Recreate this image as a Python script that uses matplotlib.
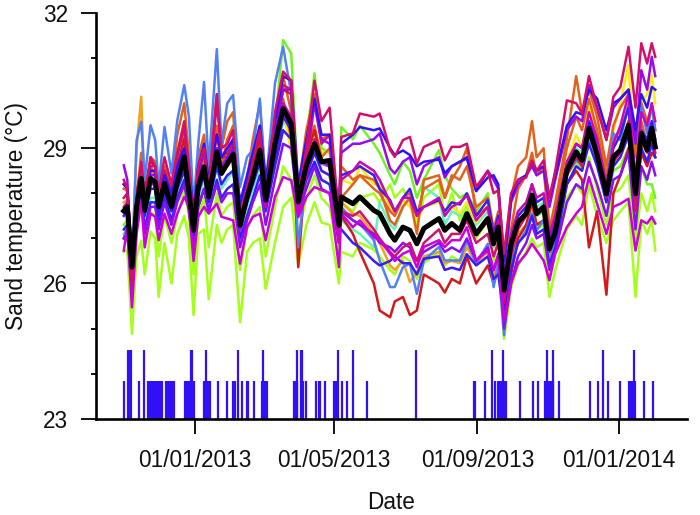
import matplotlib
matplotlib.use("Agg")
import matplotlib.pyplot as plt

plt.rcParams["font.family"] = ["Liberation Sans", "DejaVu Sans"]

# days since 01/01/2013
days = [-61, -58, -54, -50, -46, -43, -38, -34, -31, -26,
        -20, -15, -9, -5, -1, 3, 8, 12, 19, 23,
        28, 33, 39, 45, 50, 56, 61, 69, 76, 83,
        89, 96, 103, 109, 116, 124, 126, 136, 142, 154,
        159, 168, 172, 179, 185, 191, 197, 210, 215, 221,
        228, 234, 242, 252, 257, 261, 266, 272, 278, 285,
        290, 294, 300, 305, 310, 320, 328, 333, 339, 346,
        354, 360, 366, 373, 379, 384, 389, 393, 396]

mean_temp = [27.61, 27.70, 26.36, 27.70, 28.33, 27.62, 28.33, 28.25, 27.70, 28.22,
             27.70, 28.25, 28.81, 28.03, 27.18, 28.14, 28.59, 27.92, 28.92, 28.44,
             28.66, 28.87, 27.29, 27.92, 28.36, 28.96, 27.85, 29.10, 29.88, 29.55,
             27.81, 28.62, 29.10, 28.70, 28.73, 27.29, 27.92, 27.77, 27.92, 27.62,
             27.55, 27.10, 26.96, 27.25, 27.18, 26.88, 27.22, 27.44, 27.18, 27.33,
             27.18, 27.55, 27.10, 27.44, 26.88, 27.25, 25.85, 26.88, 27.36, 27.55,
             27.96, 27.55, 27.70, 26.77, 27.14, 28.51, 28.92, 28.73, 29.44, 28.85,
             27.99, 28.81, 28.96, 29.51, 27.99, 29.33, 28.96, 29.44, 29.03]

lime = [26.70, 26.75, 24.88, 26.60, 26.95, 26.20, 27.15, 27.00, 25.70, 26.90,
        26.00, 27.10, 27.50, 27.00, 25.30, 27.10, 27.20, 25.65, 27.30, 26.90,
        27.20, 27.30, 25.14, 26.70, 26.90, 27.00, 25.88, 26.90, 27.70, 27.90,
        26.40, 27.30, 27.80, 27.35, 27.30, 26.00, 26.70, 26.60, 26.90, 26.75,
        26.60, 26.30, 26.20, 26.60, 26.50, 26.10, 26.45, 26.70, 26.40, 26.60,
        26.50, 26.90, 26.50, 26.80, 26.10, 26.50, 24.77, 25.90, 26.40, 26.70,
        27.00, 26.80, 26.90, 25.70, 26.30, 27.20, 27.50, 27.30, 28.20, 27.50,
        26.90, 27.40, 27.60, 27.80, 25.70, 27.40, 27.10, 27.40, 26.73]

lime_mid = [27.00, 27.10, 25.70, 27.20, 27.70, 27.00, 27.60, 27.50, 26.60, 27.50,
            26.90, 27.50, 28.10, 27.50, 26.20, 27.50, 27.90, 26.80, 28.00, 27.50,
            27.70, 27.80, 26.30, 27.20, 27.50, 27.70, 26.60, 27.70, 28.60, 28.30,
            27.10, 27.90, 28.40, 27.90, 27.70, 26.60, 27.80, 27.60, 27.90, 28.00,
            27.80, 28.20, 27.90, 28.10, 27.80, 27.30, 27.90, 28.20, 27.50, 28.00,
            27.40, 27.70, 27.00, 27.40, 26.50, 27.00, 25.20, 26.50, 27.00, 27.30,
            27.50, 27.20, 27.30, 26.20, 26.80, 27.90, 28.20, 28.00, 28.80, 28.10,
            27.30, 28.00, 28.10, 28.40, 26.90, 28.00, 27.60, 28.00, 27.60]

green = [27.30, 27.40, 26.00, 27.60, 28.70, 27.80, 28.30, 28.30, 27.80, 28.20,
         27.80, 28.30, 29.00, 28.20, 27.00, 28.20, 28.70, 27.70, 28.90, 28.40,
         28.60, 28.80, 27.00, 27.80, 28.30, 29.30, 27.90, 29.50, 31.40, 31.10,
         28.00, 29.20, 30.66, 29.00, 28.90, 26.90, 29.47, 29.20, 29.50, 29.10,
         28.90, 28.40, 28.20, 28.70, 28.50, 27.90, 28.30, 28.96, 28.40, 28.10,
         27.90, 28.00, 27.60, 28.00, 27.20, 27.40, 25.40, 26.90, 27.30, 27.60,
         27.90, 27.50, 27.60, 26.50, 27.00, 28.40, 28.70, 28.50, 29.30, 28.70,
         27.80, 28.50, 28.60, 29.00, 27.30, 28.60, 28.20, 28.20, 27.90]

aqua = [27.10, 27.20, 26.10, 27.40, 28.00, 27.30, 27.90, 27.90, 27.40, 27.90,
        27.40, 28.00, 28.50, 27.80, 27.10, 27.90, 28.30, 27.70, 28.60, 28.10,
        28.30, 28.50, 27.10, 27.70, 28.10, 28.60, 27.70, 28.80, 29.60, 29.30,
        27.60, 28.20, 28.70, 28.30, 28.20, 27.10, 27.40, 27.20, 27.10, 26.80,
        27.80, 27.30, 27.20, 27.70, 27.90, 27.40, 28.14, 27.90, 27.30, 27.60,
        27.50, 27.80, 27.30, 27.60, 26.80, 27.30, 25.90, 27.00, 27.50, 27.70,
        28.00, 27.70, 27.80, 26.90, 27.30, 28.50, 29.00, 28.90, 29.50, 29.00,
        28.00, 28.80, 29.00, 29.60, 28.30, 29.40, 29.00, 29.40, 29.00]

yellow = [27.90, 27.95, 26.50, 28.00, 28.50, 27.85, 28.50, 28.45, 27.95, 28.40,
          27.95, 28.40, 29.00, 28.25, 27.40, 28.30, 28.75, 28.10, 29.10, 28.65,
          28.85, 29.05, 27.40, 28.05, 28.55, 29.15, 28.00, 29.20, 29.85, 28.90,
          28.00, 28.80, 29.30, 28.90, 28.95, 27.40, 28.30, 28.20, 28.60, 28.20,
          28.20, 27.70, 27.50, 27.85, 27.70, 27.40, 27.70, 27.80, 27.60, 27.70,
          27.55, 27.80, 27.35, 27.70, 27.00, 27.40, 25.90, 27.00, 27.50, 27.80,
          28.10, 27.80, 27.90, 26.90, 27.30, 28.70, 29.30, 29.00, 29.90, 29.30,
          28.40, 29.40, 30.00, 30.84, 28.50, 30.00, 30.20, 30.62, 30.00]

orange = [27.80, 27.85, 26.45, 29.00, 30.14, 27.90, 28.45, 28.40, 27.75, 28.40,
          27.85, 28.30, 28.90, 28.15, 27.20, 28.20, 28.60, 27.95, 28.95, 28.50,
          28.70, 28.90, 27.25, 27.95, 28.40, 29.10, 27.95, 29.05, 29.85, 29.60,
          27.90, 28.60, 29.10, 28.50, 28.40, 27.10, 27.80, 27.55, 27.50, 27.10,
          26.90, 26.40, 26.30, 26.50, 26.03, 26.25, 26.60, 26.70, 26.45, 26.50,
          26.45, 26.80, 26.45, 26.70, 26.10, 26.45, 25.60, 26.60, 27.10, 27.30,
          27.70, 27.30, 27.40, 26.60, 27.00, 28.40, 28.80, 28.60, 29.40, 28.80,
          28.00, 28.70, 28.90, 29.40, 28.00, 29.10, 28.90, 29.30, 29.00]

orange_mid = [27.60, 27.60, 26.30, 27.90, 28.90, 27.70, 28.60, 28.40, 27.60, 28.60,
              27.90, 28.50, 29.30, 28.30, 27.10, 28.40, 28.80, 28.00, 29.50, 28.60,
              29.20, 29.50, 27.40, 28.10, 28.60, 29.30, 27.90, 29.20, 30.10, 29.20,
              27.90, 28.90, 29.50, 28.80, 29.00, 27.30, 27.90, 28.20, 28.40, 28.30,
              28.10, 27.40, 27.30, 27.70, 27.90, 27.10, 28.30, 28.40, 27.90, 28.30,
              28.60, 29.00, 27.50, 27.70, 26.90, 27.30, 25.70, 27.20, 28.10, 28.40,
              28.90, 28.40, 28.60, 27.00, 27.70, 29.00, 29.70, 29.40, 30.10, 29.40,
              28.40, 29.20, 29.40, 29.90, 28.40, 29.60, 29.10, 29.40, 29.00]

dark_orange = [28.10, 28.05, 26.60, 28.00, 28.60, 28.00, 28.80, 28.70, 28.00, 28.60,
               28.10, 29.30, 30.00, 28.80, 27.60, 28.80, 29.30, 28.30, 30.20, 29.00,
               29.60, 29.80, 27.60, 28.30, 29.20, 30.00, 28.20, 29.50, 30.60, 29.80,
               28.10, 29.40, 30.20, 29.20, 29.30, 27.60, 28.60, 28.30, 28.40, 28.10,
               28.00, 27.60, 27.50, 27.90, 28.00, 27.50, 28.10, 28.30, 27.90, 28.40,
               28.30, 28.60, 27.70, 27.90, 27.20, 27.60, 26.10, 27.90, 28.60, 28.80,
               29.60, 28.80, 29.00, 27.20, 27.80, 29.20, 30.60, 29.80, 30.30, 29.70,
               28.60, 29.50, 29.90, 30.20, 28.80, 30.00, 29.60, 29.90, 29.40]

red = [28.20, 28.10, 26.60, 28.00, 28.60, 28.10, 28.70, 28.60, 28.10, 28.50,
       28.00, 28.60, 29.20, 28.40, 27.30, 28.50, 28.90, 28.20, 29.30, 28.80,
       28.90, 29.10, 27.40, 28.10, 28.70, 29.20, 28.00, 29.40, 30.30, 30.20,
       26.36, 28.80, 29.40, 28.70, 28.60, 27.20, 27.50, 27.10, 26.70, 26.00,
       25.40, 25.25, 25.60, 25.70, 25.30, 25.40, 26.20, 26.00, 25.80, 26.10,
       26.00, 26.60, 26.00, 26.40, 26.00, 26.30, 25.40, 26.20, 27.00, 27.30,
       27.80, 27.30, 27.40, 26.70, 27.00, 28.20, 28.50, 28.30, 26.80, 27.60,
       25.75, 28.00, 28.40, 29.00, 27.80, 28.90, 28.60, 28.90, 28.80]

cornflower = [27.00, 27.30, 26.30, 29.18, 29.59, 28.29, 29.51, 29.18, 28.14, 29.47,
              28.44, 29.62, 30.40, 29.70, 27.70, 29.10, 30.47, 28.59, 31.20, 29.10,
              30.00, 30.18, 28.14, 28.81, 28.96, 30.10, 28.14, 30.44, 31.25, 30.20,
              26.80, 28.44, 29.03, 28.66, 28.59, 27.10, 27.70, 27.40, 27.33, 26.96,
              26.51, 25.92, 25.92, 26.36, 26.44, 25.77, 26.51, 26.81, 26.51, 26.51,
              26.51, 26.96, 26.44, 26.88, 25.92, 26.44, 24.85, 26.51, 26.88, 27.18,
              27.55, 27.18, 27.40, 26.36, 27.10, 28.44, 28.73, 28.66, 29.18, 28.96,
              28.14, 29.33, 29.18, 29.99, 27.85, 29.92, 29.33, 29.99, 29.40]

blue_low = [27.20, 27.30, 26.20, 27.40, 28.00, 27.20, 27.80, 27.80, 27.30, 27.90,
            27.40, 27.90, 28.30, 27.70, 26.90, 27.70, 28.10, 27.60, 28.30, 27.90,
            28.10, 28.20, 27.00, 27.50, 27.90, 28.40, 27.60, 28.60, 29.40, 29.20,
            27.70, 28.30, 28.70, 28.30, 28.20, 27.10, 27.20, 26.90, 26.80, 26.50,
            26.40, 26.50, 26.60, 26.45, 26.45, 26.20, 26.55, 26.60, 26.30, 26.35,
            26.30, 26.65, 26.40, 26.60, 26.10, 26.20, 25.30, 26.30, 26.90, 27.10,
            27.50, 27.10, 27.20, 26.40, 26.80, 28.20, 28.60, 28.50, 29.10, 28.60,
            27.80, 28.60, 28.80, 29.30, 27.70, 29.00, 28.70, 29.10, 28.80]

violet_low = [27.00, 27.10, 25.90, 27.30, 27.90, 27.10, 27.70, 27.70, 27.20, 27.80,
              27.30, 27.80, 28.20, 27.60, 26.80, 27.70, 28.10, 27.60, 28.20, 27.80,
              28.00, 28.00, 26.80, 27.40, 27.80, 28.20, 27.30, 28.30, 29.10, 29.00,
              27.60, 28.10, 28.60, 28.10, 28.00, 26.90, 27.60, 27.40, 27.30, 27.10,
              26.90, 26.80, 26.70, 26.90, 26.80, 26.50, 26.70, 26.90, 26.70, 26.80,
              26.70, 27.00, 26.50, 26.80, 26.30, 26.60, 25.00, 26.00, 26.60, 26.90,
              27.30, 27.00, 27.10, 26.30, 26.70, 27.80, 28.20, 28.10, 28.70, 28.20,
              27.50, 28.30, 28.40, 28.90, 27.20, 28.60, 28.30, 28.70, 28.40]

blue_mid = [27.50, 27.60, 26.50, 27.60, 28.20, 27.50, 28.10, 28.10, 27.50, 28.00,
            27.60, 28.10, 28.50, 27.90, 27.10, 28.00, 28.40, 27.80, 28.60, 28.20,
            28.40, 28.50, 27.20, 27.80, 28.20, 28.70, 27.80, 28.70, 29.70, 29.40,
            27.80, 28.40, 28.90, 28.50, 28.40, 27.30, 28.40, 28.50, 28.60, 28.40,
            28.10, 27.85, 27.60, 27.90, 28.10, 27.60, 27.70, 27.85, 27.60, 27.80,
            27.75, 28.00, 27.50, 27.85, 27.10, 27.50, 25.80, 27.00, 27.50, 27.70,
            28.20, 27.80, 27.90, 27.00, 27.40, 28.60, 29.10, 29.00, 29.60, 29.10,
            28.20, 29.00, 29.30, 29.90, 28.30, 29.40, 29.20, 29.60, 29.20]

blue_high = [28.20, 28.10, 26.60, 27.90, 28.50, 27.90, 28.50, 28.50, 28.00, 28.40,
             28.00, 28.60, 29.00, 28.60, 27.60, 28.60, 29.10, 28.30, 29.30, 28.80,
             29.00, 29.20, 27.80, 28.40, 28.90, 29.50, 28.30, 29.60, 30.60, 30.50,
             28.20, 29.20, 30.10, 29.30, 29.30, 27.60, 29.10, 29.30, 29.47, 29.40,
             29.44, 29.00, 28.85, 28.95, 28.85, 28.60, 28.70, 28.75, 28.45, 28.60,
             28.70, 28.80, 28.05, 28.35, 28.40, 28.20, 26.50, 27.90, 28.30, 28.40,
             28.70, 28.50, 28.60, 27.90, 28.40, 29.50, 29.80, 29.75, 30.30, 30.10,
             29.40, 30.00, 30.10, 30.30, 29.40, 30.20, 29.90, 30.36, 30.30]

purple = [28.62, 28.30, 26.20, 27.80, 28.40, 27.80, 28.40, 28.40, 27.90, 28.40,
          27.90, 28.50, 28.90, 28.40, 27.40, 28.40, 29.00, 28.20, 29.00, 28.60,
          28.80, 29.00, 27.70, 28.30, 28.80, 29.50, 28.20, 29.30, 30.30, 30.30,
          27.80, 29.00, 30.00, 29.20, 29.10, 27.50, 28.90, 29.10, 29.10, 29.20,
          29.33, 28.55, 28.44, 28.70, 28.80, 28.20, 28.60, 28.80, 28.35, 28.60,
          28.70, 28.77, 28.05, 28.50, 28.30, 28.10, 26.30, 27.80, 28.20, 28.40,
          28.60, 28.40, 28.50, 27.70, 28.30, 29.40, 29.70, 29.60, 30.40, 29.90,
          29.20, 29.90, 30.10, 30.30, 29.10, 30.73, 30.30, 31.03, 30.60]

magenta = [26.73, 27.25, 25.47, 27.10, 27.85, 26.80, 27.55, 27.48, 26.96, 27.55,
           27.10, 27.55, 27.92, 27.70, 26.50, 27.48, 27.70, 27.55, 27.77, 27.48,
           27.44, 27.40, 26.44, 27.25, 27.48, 27.55, 26.96, 27.92, 28.36, 28.29,
           27.47, 27.92, 28.14, 28.07, 28.00, 26.36, 27.55, 27.25, 27.40, 27.03,
           26.96, 26.66, 26.50, 26.66, 26.73, 26.36, 26.81, 26.96, 26.81, 26.96,
           26.96, 27.25, 26.51, 26.73, 26.29, 26.66, 25.18, 26.00, 26.44, 26.66,
           26.88, 26.73, 26.51, 26.07, 26.66, 27.25, 27.55, 27.70, 28.36, 27.77,
           27.10, 27.70, 27.77, 27.88, 26.73, 27.40, 27.33, 27.48, 27.33]

magenta_mid = [27.70, 27.80, 26.40, 27.70, 28.20, 27.70, 28.20, 28.20, 27.70, 28.30,
               27.80, 28.30, 28.90, 28.10, 27.20, 28.10, 28.60, 27.90, 29.00, 28.50,
               28.60, 28.80, 27.20, 27.90, 28.30, 28.90, 27.70, 29.10, 30.00, 29.70,
               27.60, 28.40, 29.20, 28.70, 28.60, 26.90, 28.30, 28.50, 28.70, 28.50,
               28.30, 27.80, 27.60, 27.90, 27.90, 27.50, 27.70, 27.90, 27.50, 27.70,
               27.80, 27.95, 27.40, 27.70, 27.00, 27.40, 25.90, 27.10, 27.60, 27.80,
               28.20, 27.90, 28.00, 27.10, 27.50, 28.70, 29.10, 29.00, 29.80, 29.20,
               28.20, 29.10, 29.50, 30.20, 28.20, 29.80, 29.50, 30.00, 29.60]

crimson_low = [27.90, 28.00, 26.40, 27.80, 28.70, 27.90, 28.60, 28.60, 27.80, 28.50,
               28.00, 28.80, 29.50, 28.40, 27.30, 28.50, 28.90, 28.10, 30.20, 28.80,
               28.80, 29.20, 27.50, 28.00, 28.40, 29.00, 27.80, 29.50, 30.40, 30.30,
               27.60, 28.60, 30.00, 29.10, 29.30, 27.20, 27.60, 27.50, 27.60, 27.20,
               27.00, 26.70, 26.60, 26.80, 26.90, 26.50, 26.90, 27.20, 26.90, 27.10,
               27.10, 27.40, 26.90, 27.10, 26.60, 26.90, 25.60, 26.60, 27.20, 27.50,
               27.90, 27.60, 27.70, 26.80, 27.10, 28.40, 28.80, 28.60, 29.40, 28.80,
               27.90, 28.70, 28.90, 29.60, 27.60, 29.20, 28.90, 29.30, 28.90]

crimson = [28.30, 28.10, 26.00, 27.90, 28.60, 27.80, 28.80, 28.60, 28.00, 28.80,
           28.20, 28.90, 29.60, 28.60, 27.30, 28.60, 29.00, 28.10, 30.00, 29.00,
           29.10, 29.40, 27.40, 28.10, 28.70, 29.40, 27.90, 29.80, 30.70, 30.50,
           27.90, 29.00, 30.50, 29.60, 29.90, 27.40, 29.25, 29.33, 29.77, 29.70,
           29.77, 28.96, 28.81, 29.18, 29.25, 28.66, 29.03, 29.18, 28.73, 29.03,
           29.03, 29.10, 28.14, 28.50, 28.00, 28.07, 26.66, 28.00, 28.30, 28.35,
           28.73, 28.50, 28.73, 27.90, 28.50, 30.06, 30.00, 29.77, 30.60, 29.90,
           29.18, 30.14, 30.36, 31.25, 29.90, 31.33, 30.88, 31.33, 31.03]

rain_small_days = [-61, -48, -40, -39, -38, -37, -36, -35, -34, -33, -32, -31, -30, -29, -28,
                   -25, -24, -23, -22, -21, -20, -19, -18, -8, -7, -6, -5, -1, 8, 9, 10, 11, 12,
                   13, 20, 28, 33, 35, 41, 45, 46, 51, 58, 59, 60, 61, 62, 85, 86, 87, 88, 93,
                   96, 104, 107, 108, 112, 120, 121, 122, 127, 131, 148, 240, 241, 250, 258,
                   261, 262, 263, 264, 265, 266, 267, 268, 280, 291, 295, 301, 302, 303, 304,
                   305, 306, 307, 308, 313, 340, 347, 355, 366, 373, 374, 375, 376, 377, 378,
                   379, 386, 394]
rain_large_days = [-57, -56, -55, -44, -3, -2, 10, 37, 59, 88, 91, 92, 123, 136,
                   190, 256, 265, 303, 308, 351, 378]
rain_small_top = 23.83
rain_large_top = 24.52

x_ticks = [0, 120, 243, 365]
x_labels = ["01/01/2013", "01/05/2013", "01/09/2013", "01/01/2014"]
y_ticks = [23, 26, 29, 32]
y_minor = [24, 25, 27, 28, 30, 31]

series = [
    (lime, "#A4FF1C"),
    (lime_mid, "#A4FF1C"),
    (green, "#72F226"),
    (aqua, "#66F2BC"),
    (yellow, "#F6EE14"),
    (orange, "#F0A41E"),
    (orange_mid, "#E2621C"),
    (dark_orange, "#E2621C"),
    (red, "#D21A1A"),
    (cornflower, "#5282F2"),
    (blue_low, "#3A1CF4"),
    (violet_low, "#8A10F0"),
    (blue_mid, "#3A1CF4"),
    (crimson_low, "#D0146C"),
    (magenta_mid, "#C808B4"),
    (magenta, "#CC00DC"),
    (purple, "#9A08EE"),
    (blue_high, "#3212F2"),
    (crimson, "#D2106A"),
]

fig = plt.figure(figsize=(7, 5.15), dpi=100)
ax = fig.add_axes([96 / 700, 1 - 418.7 / 515, (687 - 96) / 700, (418.7 - 13) / 515])

for values, color in series:
    ax.plot(days, values, color=color, lw=1.8, solid_joinstyle="round")
ax.plot(days, mean_temp, color="black", lw=3.6, solid_joinstyle="round", zorder=5)

ax.vlines(rain_small_days, 23, rain_small_top, color="#3010F4", lw=1.6)
ax.vlines(rain_large_days, 23, rain_large_top, color="#3010F4", lw=1.6)

ax.set_xlim(-84.9, 423.3)
ax.set_ylim(23, 32)
ax.spines["top"].set_visible(False)
ax.spines["right"].set_visible(False)
ax.spines["left"].set_linewidth(1.9)
ax.spines["bottom"].set_linewidth(1.9)

ax.set_xticks(x_ticks)
ax.set_xticklabels(x_labels)
ax.set_yticks(y_ticks)
ax.set_yticks(y_minor, minor=True)
ax.tick_params(axis="x", length=10.5, width=1.3, labelsize=16.3, pad=11, labelcolor="#111111")
ax.tick_params(axis="y", which="major", length=11, width=1.3, labelsize=16.3, pad=9, labelcolor="#111111")
ax.tick_params(axis="y", which="minor", length=3.6, width=1.3)

ax.set_xlabel("Date", fontsize=16.3, labelpad=14, color="#111111")
ax.set_ylabel("Sand temperature (°C)", fontsize=16.3, labelpad=11, color="#111111")

fig.savefig("out.png", dpi=100)
